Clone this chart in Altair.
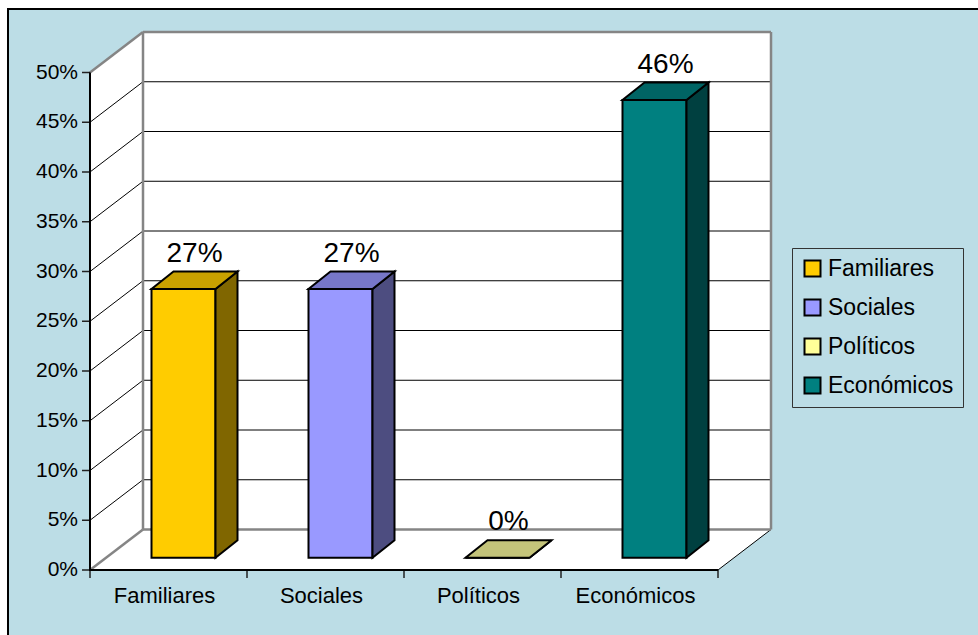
import altair as alt
import pandas as pd

# ---------------- data ----------------
CATEGORIES = ["Familiares", "Sociales", "Políticos", "Económicos"]
VALUES = [27, 27, 0, 46]                      # percent
FRONT_COLORS = ["#FFCC00", "#9999FF", "#FFFF99", "#008080"]
TOP_COLORS = ["#C9A100", "#7777C8", "#C4C47A", "#006464"]
SIDE_COLORS = ["#806600", "#4D4D80", "#80804D", "#004040"]
Y_TICKS = [0, 5, 10, 15, 20, 25, 30, 35, 40, 45, 50]
Y_TICK_LABELS = ["0%", "5%", "10%", "15%", "20%", "25%", "30%", "35%", "40%", "45%", "50%"]

BG = "#BCDDE6"
FONT = "Liberation Sans"

# ---------------- layout constants ----------------
PX_CAT = 157.0      # pixels per category band
PX_PCT = 9.95       # pixels per percent
PLOT_W = 681
PLOT_H = 538
N = len(CATEGORIES)
YTOP = Y_TICKS[-1]
XMAX = PLOT_W / PX_CAT
YMAX = PLOT_H / PX_PCT
WDX = XMAX - N              # wall depth (x units)
WDY = YMAX - YTOP           # wall depth (y units)
BW = 64 / PX_CAT            # bar width
OX = 15 / PX_CAT            # bar front offset into depth
OY = 12.3 / PX_PCT
DX = 22 / PX_CAT            # bar depth
DY = 17.5 / PX_PCT
TICK = 8                    # tick length (px)

xs = alt.Scale(domain=[0, XMAX], nice=False, zero=False)
ys = alt.Scale(domain=[0, YMAX], nice=False, zero=False)


def qx(f):
    return alt.X(f"{f}:Q", scale=xs, axis=None)


def qy(f):
    return alt.Y(f"{f}:Q", scale=ys, axis=None)


one = pd.DataFrame({"a": [0]})

# ---------------- outer frame (white margin + black border) ----------------
white_left = alt.Chart(one).mark_rect(fill="white").encode(
    x=alt.value(-95), x2=alt.value(-82), y=alt.value(-40), y2=alt.value(PLOT_H + 120))
white_top = alt.Chart(one).mark_rect(fill="white").encode(
    x=alt.value(-95), x2=alt.value(PLOT_W + 400), y=alt.value(-40), y2=alt.value(-23))
border = alt.Chart(one).mark_rect(
    fill="transparent", stroke="black", strokeWidth=2
).encode(
    x=alt.value(-82), x2=alt.value(PLOT_W + 400),
    y=alt.value(-23), y2=alt.value(PLOT_H + 200),
)

# ---------------- walls ----------------
back_df = pd.DataFrame({"x": [WDX], "x2": [N + WDX], "y": [WDY], "y2": [YTOP + WDY]})
back = alt.Chart(back_df).mark_rect(fill="white").encode(
    x=qx("x"), x2="x2:Q", y=qy("y"), y2="y2:Q",
)

left_df = pd.DataFrame({"x": [0, WDX], "y": [0, WDY], "y2": [YTOP, YTOP + WDY]})
left_wall = alt.Chart(left_df).mark_area(fill="white").encode(
    x=qx("x"), y=qy("y"), y2="y2:Q"
)

floor_df = pd.DataFrame({"y": [0, WDY], "x": [0, WDX], "x2": [N, N + WDX]})
floor = alt.Chart(floor_df).mark_area(fill="white", orient="horizontal").encode(
    y=qy("y"), x=qx("x"), x2="x2:Q"
)

# ---------------- ticks + tick labels ----------------
ytick_df = pd.DataFrame({"x0": [0] * len(Y_TICKS), "v": Y_TICKS, "t": Y_TICK_LABELS})
y_ticks = alt.Chart(ytick_df).mark_rule(color="#222", strokeWidth=1.5).encode(
    x=qx("x0"), x2=alt.value(-TICK), y=qy("v"))
y_labels = alt.Chart(ytick_df).mark_text(
    font=FONT, fontSize=21, color="black", align="right", baseline="middle", dx=-12
).encode(x=qx("x0"), y=qy("v"), text="t:N")

xtick_df = pd.DataFrame({"xb": list(range(N + 1)), "y0": [0] * (N + 1)})
x_ticks = alt.Chart(xtick_df).mark_rule(color="#222", strokeWidth=1.5).encode(
    x=qx("xb"), y=qy("y0"), y2=alt.value(PLOT_H + TICK))

# ---------------- grid + edges ----------------
grid_rows, frame_rows = [], []
for v in Y_TICKS[1:-1]:
    grid_rows.append({"x": 0, "y": v, "x2": WDX, "y2": v + WDY})
    grid_rows.append({"x": WDX, "y": v + WDY, "x2": N + WDX, "y2": v + WDY})
grid_rows.append({"x": N, "y": 0, "x2": N + WDX, "y2": WDY})

frame_rows += [
    {"x": WDX, "y": WDY, "x2": N + WDX, "y2": WDY},
    {"x": WDX, "y": YTOP + WDY, "x2": N + WDX, "y2": YTOP + WDY},
    {"x": WDX, "y": WDY, "x2": WDX, "y2": YTOP + WDY},
    {"x": N + WDX, "y": WDY, "x2": N + WDX, "y2": YTOP + WDY},
    {"x": 0, "y": 0, "x2": WDX, "y2": WDY},
    {"x": 0, "y": YTOP, "x2": WDX, "y2": YTOP + WDY},
]


def rules(rows, color, width):
    return alt.Chart(pd.DataFrame(rows)).mark_rule(
        color=color, strokeWidth=width
    ).encode(x=qx("x"), y=qy("y"), x2="x2:Q", y2="y2:Q")


grid = rules(grid_rows, "black", 1)
frame_lines = rules(frame_rows, "#858585", 2.5)

# front edges of the box: y axis line and floor front edge (polyline)
edge_df = pd.DataFrame({"ex": [0, 0, N], "ey": [YTOP, 0, 0], "o": [0, 1, 2]})
edges = alt.Chart(edge_df).mark_line(color="black", strokeWidth=2).encode(
    x=qx("ex"), y=qy("ey"), order="o:Q")

# ---------------- bars ----------------
front_rows, side_rows, top_rows, lab_rows, cat_rows = [], [], [], [], []
for i, (c, v) in enumerate(zip(CATEGORIES, VALUES)):
    xl = i + 0.5 - BW / 2 + OX
    xr = xl + BW
    front_rows.append({"cat": c, "x": xl, "x2": xr, "y": OY, "y2": OY + v})
    side_rows.append({"bar": c, "col": SIDE_COLORS[i], "x": xr, "y": OY, "y2": OY + v})
    side_rows.append({"bar": c, "col": SIDE_COLORS[i], "x": xr + DX, "y": OY + DY, "y2": OY + v + DY})
    top_rows.append({"bar": c, "col": TOP_COLORS[i], "y": OY + v, "x": xl, "x2": xr})
    top_rows.append({"bar": c, "col": TOP_COLORS[i], "y": OY + v + DY, "x": xl + DX, "x2": xr + DX})
    lab_rows.append({"x": i + 0.5 + OX + DX / 2, "y": OY + v + DY, "t": f"{round(v)}%"})
    cat_rows.append({"x": i + 0.5, "y": 0, "t": c})

front = alt.Chart(pd.DataFrame(front_rows)).mark_rect(
    stroke="black", strokeWidth=2
).encode(
    x=qx("x"), x2="x2:Q", y=qy("y"), y2="y2:Q",
    fill=alt.Fill(
        "cat:N",
        scale=alt.Scale(domain=CATEGORIES, range=FRONT_COLORS),
        legend=alt.Legend(
            title=None, orient="none", legendX=702, legendY=216,
            symbolType="square", symbolSize=256, symbolStrokeColor="black",
            symbolStrokeWidth=2, symbolOpacity=1,
            labelFont=FONT, labelFontSize=23, labelColor="black",
            labelOffset=4, rowPadding=14, padding=9, labelLimit=300,
            strokeColor="#333333", fillColor=BG, cornerRadius=0,
        ),
    ),
)

side = alt.Chart(pd.DataFrame(side_rows)).mark_area(
    stroke="black", strokeWidth=2, strokeJoin="miter"
).encode(
    x=qx("x"), y=qy("y"), y2="y2:Q",
    fill=alt.Fill("col:N", scale=None), detail="bar:N",
)

top = alt.Chart(pd.DataFrame(top_rows)).mark_area(
    stroke="black", strokeWidth=2, strokeJoin="miter", orient="horizontal"
).encode(
    y=qy("y"), x=qx("x"), x2="x2:Q",
    fill=alt.Fill("col:N", scale=None), detail="bar:N",
)

value_labels = alt.Chart(pd.DataFrame(lab_rows)).mark_text(
    font=FONT, fontSize=28, color="black", baseline="alphabetic", dy=-10
).encode(x=qx("x"), y=qy("y"), text="t:N")

cat_labels = alt.Chart(pd.DataFrame(cat_rows)).mark_text(
    font=FONT, fontSize=22, color="black", baseline="alphabetic", dy=33, dx=-4
).encode(x=qx("x"), y=qy("y"), text="t:N")

chart = alt.layer(
    white_left, white_top, border, back, left_wall, floor, grid, frame_lines,
    y_ticks, x_ticks, edges, y_labels,
    front, side, top, value_labels, cat_labels,
).properties(
    width=PLOT_W, height=PLOT_H,
    padding={"left": 90, "top": 32, "right": 978 - 90 - PLOT_W, "bottom": 635 - 32 - PLOT_H},
    autosize=alt.AutoSizeParams(type="none"),
    background=BG,
).configure_view(stroke=None)

chart.save("out.html", embed_options={"renderer": "svg", "actions": False})
